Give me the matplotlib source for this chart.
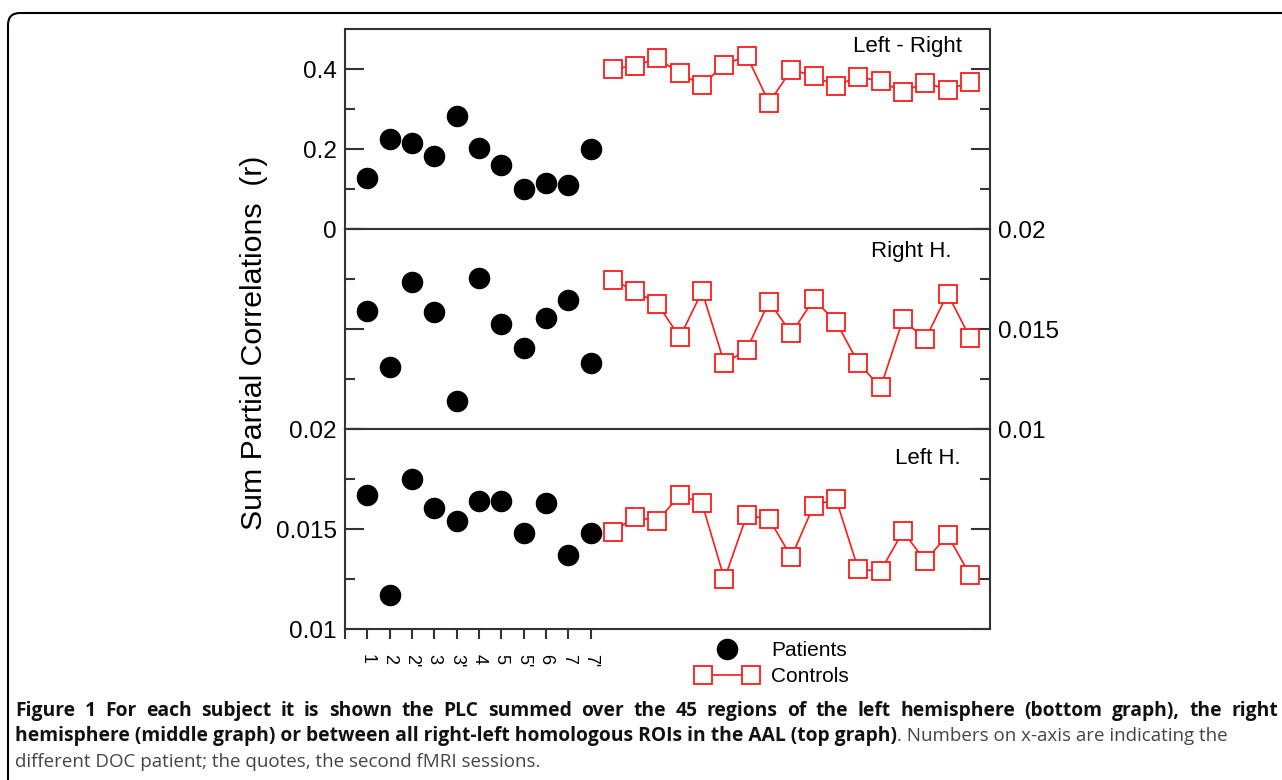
import matplotlib
matplotlib.use('Agg')
import matplotlib.pyplot as plt
import numpy as np
from matplotlib.legend_handler import HandlerLine2D
from matplotlib.patches import FancyBboxPatch
from matplotlib.transforms import IdentityTransform

plt.rcParams['font.family'] = ['Liberation Sans', 'DejaVu Sans']

# patients (1..11) and controls (12..28)
patient_labels = ['1', '2', "2'", '3', "3'", '4', '5', "5'", '6', '7', "7'"]
n_controls = 17

lr_patients = [0.128, 0.225, 0.214, 0.183, 0.283, 0.203, 0.159, 0.099, 0.116, 0.110, 0.201]
lr_controls = [0.401, 0.408, 0.427, 0.389, 0.360, 0.411, 0.433, 0.316, 0.398, 0.383,
               0.358, 0.381, 0.369, 0.343, 0.366, 0.348, 0.367]

rh_patients = [0.01588, 0.01308, 0.01737, 0.01587, 0.01140, 0.01757, 0.01527, 0.01407,
               0.01557, 0.01647, 0.01330]
rh_controls = [0.01747, 0.01688, 0.01627, 0.01458, 0.01688, 0.01328, 0.01397, 0.01637,
               0.01478, 0.01648, 0.01537, 0.01330, 0.01208, 0.01548, 0.01448, 0.01677, 0.01457]

lh_patients = [0.01668, 0.01168, 0.01748, 0.01603, 0.01538, 0.01638, 0.01638, 0.01478,
               0.01630, 0.01368, 0.01478]
lh_controls = [0.01487, 0.01560, 0.01540, 0.01670, 0.01628, 0.01250, 0.01568, 0.01550,
               0.01360, 0.01617, 0.01650, 0.01298, 0.01290, 0.01488, 0.01340, 0.01470, 0.01270]

caption_1 = ('Figure 1 For each subject it is shown the PLC summed over the 45 regions of the '
             'left hemisphere (bottom graph), the right')
caption_2b = ('hemisphere (middle graph) or between all right-left homologous ROIs in the AAL '
              '(top graph)')
caption_2n = '. Numbers on x-axis are indicating the'
caption_3 = 'different DOC patient; the quotes, the second fMRI sessions.'

x_pat = np.arange(1, len(patient_labels) + 1)
x_con = np.arange(len(patient_labels) + 1, len(patient_labels) + 1 + n_controls)

spine_col = '#333333'
red = '#ff1a1a'

fig = plt.figure(figsize=(12.82, 7.80), dpi=100)
L, W, H = 345 / 1282, 645 / 1282, 200 / 780
ax_top = fig.add_axes([L, 1 - 229 / 780, W, H])
ax_mid = fig.add_axes([L, 1 - 429 / 780, W, H], sharex=ax_top)
ax_bot = fig.add_axes([L, 1 - 629 / 780, W, H], sharex=ax_top)

panels = [
    (ax_top, lr_patients, lr_controls, 'Left - Right', (0, 0.5), [0.2, 0.4], [0.1, 0.3]),
    (ax_mid, rh_patients, rh_controls, 'Right H.', (0.01, 0.02), [0.015], [0.0125, 0.0175]),
    (ax_bot, lh_patients, lh_controls, 'Left H.', (0.01, 0.02), [0.015], [0.0125, 0.0175]),
]
text_pos = {'Left - Right': (0.957, 0.915), 'Right H.': (0.941, 0.885), 'Left H.': (0.955, 0.855)}

for ax, pat, con, name, ylim, major, minor in panels:
    p_line, = ax.plot(x_pat, pat, 'o', color='black', markersize=14.5, label='Patients')
    c_line, = ax.plot(x_con, con, '-s', color=red, markersize=12.5, markerfacecolor='white',
                      markeredgecolor=red, markeredgewidth=1.3, linewidth=1.2, label='Controls')
    ax.set_ylim(*ylim)
    ax.set_yticks(major)
    ax.set_yticks(minor, minor=True)
    ax.tick_params(axis='y', which='both', direction='in', left=True, right=True,
                   colors=spine_col, width=1.5, labelsize=17.5, pad=6, labelcolor='black')
    ax.tick_params(axis='y', which='major', length=14)
    ax.tick_params(axis='y', which='minor', length=7)
    for s in ax.spines.values():
        s.set_color(spine_col)
        s.set_linewidth(1.5)
    tx, ty = text_pos[name]
    ax.text(tx, ty, name, transform=ax.transAxes, ha='right', va='center', fontsize=16)

ax_top.set_xlim(0, 28.9)

# tick labels for each panel
ax_top.set_yticks([0, 0.2, 0.4])
ax_top.set_yticklabels(['0', '0.2', '0.4'])
ax_top.tick_params(axis='y', labelright=False)

ax_mid.set_yticks([0.01, 0.015, 0.02])
ax_mid.set_yticklabels(['0.01', '0.015', '0.02'])
ax_mid.tick_params(axis='y', labelleft=False, labelright=True)

ax_bot.set_yticks([0.01, 0.015, 0.02])
ax_bot.set_yticklabels(['0.01', '0.015', '0.02'])
ax_bot.tick_params(axis='y', labelright=False)

for ax in (ax_top, ax_mid):
    ax.tick_params(axis='x', bottom=False, labelbottom=False)

ax_bot.set_xticks(np.arange(0, len(patient_labels) + 1))
ax_bot.set_xticklabels([''] + patient_labels, rotation=-90)
ax_bot.tick_params(axis='x', direction='out', length=7, width=1.5, colors=spine_col,
                   labelcolor='black', labelsize=13, pad=11)

fig.text(254 / 1282, 1 - 343 / 780, 'Sum Partial Correlations  (r)', rotation=90,
         ha='center', va='center', fontsize=21.8)

leg = ax_bot.legend(handles=[p_line, c_line], loc='upper left',
                    bbox_to_anchor=(697 / 1282, 1 - 641 / 780),
                    bbox_transform=fig.transFigure, frameon=False, fontsize=15,
                    handlelength=2.9, handletextpad=0.65, labelspacing=0.35,
                    borderpad=0, borderaxespad=0, numpoints=2,
                    handler_map={p_line: HandlerLine2D(numpoints=1)})

# caption
cap_l, cap_r = 15, 1278
bold = dict(family=['Open Sans', 'DejaVu Sans'], fontsize=13.9, fontweight='bold',
            color='#111111', va='center')
normal = dict(family=['Open Sans', 'DejaVu Sans'], fontsize=13.5, color='#444444', va='center')

# first line is justified to the full width
renderer = fig.canvas.get_renderer()
words = caption_1.split(' ')
word_texts = [fig.text(0, 1 - 711 / 780, w, **bold) for w in words]
widths = [t.get_window_extent(renderer).width for t in word_texts]
gap = (cap_r - cap_l - sum(widths)) / (len(words) - 1)
xpos = cap_l
for t, w in zip(word_texts, widths):
    t.set_x(xpos / 1282)
    xpos += w + gap

t_b = fig.text(cap_l / 1282, 1 - 736 / 780, caption_2b, **bold)
ax_bot.annotate(caption_2n, xy=(1, 1 - 736 / 780), xycoords=(t_b, 'figure fraction'),
                ha='left', annotation_clip=False, **normal)
fig.text(cap_l / 1282, 1 - 762 / 780, caption_3, **normal)

# rounded frame around the figure
frame = FancyBboxPatch((8, -30), 1320, 797, boxstyle='round,pad=0,rounding_size=12',
                       transform=IdentityTransform(), facecolor='none', edgecolor='black',
                       linewidth=1.5)
fig.add_artist(frame)

fig.savefig('out.png', dpi=100)
